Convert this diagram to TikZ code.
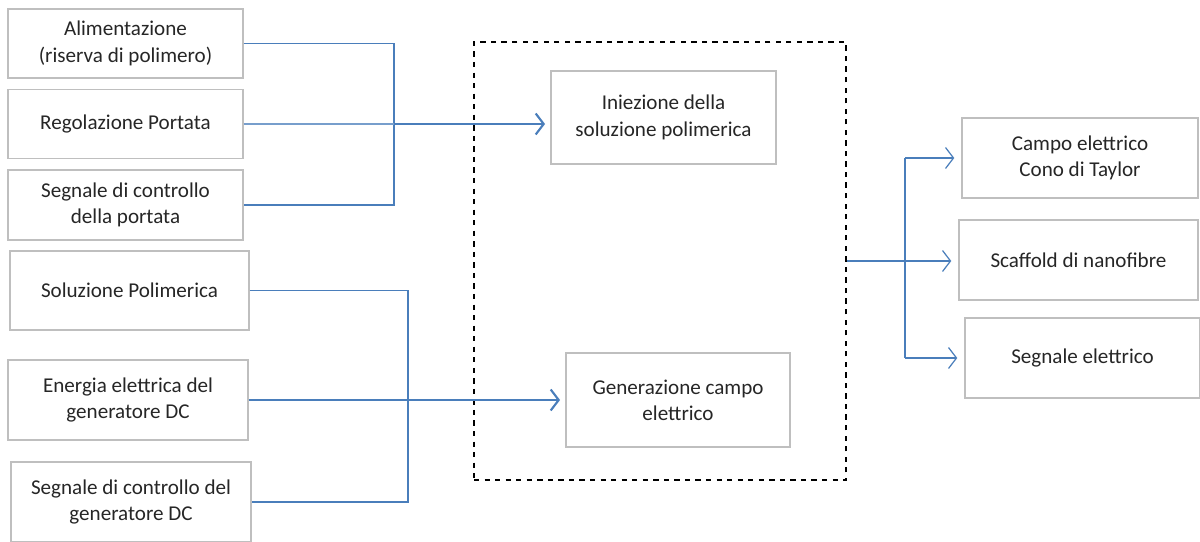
\documentclass[tikz,border=0pt]{standalone}
\usepackage{fontspec}
\setmainfont{Carlito}
\usepackage{tikz}
\usetikzlibrary{arrows.meta, positioning, calc}
\usepackage{xcolor}
\definecolor{linkblue}{RGB}{74, 126, 187}
\definecolor{boxgray}{RGB}{191, 191, 191}
\definecolor{textgray}{RGB}{38, 38, 38}

\begin{document}
\begin{tikzpicture}[
    blk/.style={draw=boxgray, line width=0.8pt, align=center, text=textgray,
      font=\fontsize{12}{15}\selectfont, inner sep=0pt},
    feed/.style={linkblue, line width=0.7pt},
    flow/.style={linkblue, line width=1.2pt, -{Straight Barb[length=1.6mm, width=4.2mm]}},
    outflow/.style={linkblue, line width=0.7pt, -{Straight Barb[length=1.6mm, width=4.2mm]}}
  ]
        \useasboundingbox (0,0) rectangle (24,10.82);
        % input blocks (left)
        \node[blk, minimum width=4.70cm, minimum height=1.38cm] (alim) at (2.51,9.95) {Alimentazione\\(riserva di polimero)};
        \node[blk, minimum width=4.70cm, minimum height=1.38cm] (regol) at (2.51,8.34) {Regolazione Portata};
        \node[blk, minimum width=4.70cm, minimum height=1.40cm] (segport) at (2.51,6.72) {Segnale di controllo\\della portata};
        \node[blk, minimum width=4.78cm, minimum height=1.58cm] (soluz) at (2.59,5.01) {Soluzione Polimerica};
        \node[blk, minimum width=4.80cm, minimum height=1.60cm] (energia) at (2.56,2.82) {Energia elettrica del\\generatore DC};
        \node[blk, minimum width=4.80cm, minimum height=1.60cm] (segdc) at (2.62,0.78) {Segnale di controllo del\\generatore DC};
        % process (dashed frame)
        \node[draw, dashed, line width=0.7pt, minimum width=7.44cm, minimum height=8.76cm] (proc) at (13.2,5.60) {};
        \node[blk, minimum width=4.50cm, minimum height=1.86cm] (iniez) at (13.27,8.47) {Iniezione della\\soluzione polimerica};
        \node[blk, minimum width=4.48cm, minimum height=1.88cm] (gener) at (13.56,2.82) {Generazione campo\\elettrico};
        % output blocks (right)
        \node[blk, minimum width=4.72cm, minimum height=1.60cm] (campo) at (21.6,7.66) {Campo elettrico\\Cono di Taylor};
        \node[blk, minimum width=4.78cm, minimum height=1.60cm] (scaff) at (21.57,5.62) {Scaffold di nanofibre};
        \node[blk, minimum width=4.70cm, minimum height=1.60cm] (segel) at (21.65,3.66) {Segnale elettrico};
        % junctions
        \coordinate (jA) at (7.88,0);
        \coordinate (jB) at (8.16,0);
        \coordinate (jC) at (18.10,0);
        % upper inputs
        \draw[feed] (alim.east) -| (jA |- segport.east) -- (segport.east);
        \draw[feed, linkblue!75, line width=1pt] (regol.east) -- (jA |- regol.east);
        \draw[flow, shorten >=3pt] (jA |- regol.east) -- (regol.east -| iniez.west);
        % lower inputs
        \draw[feed] (soluz.east) -| (jB |- segdc.east) -- (segdc.east);
        \draw[feed] (energia.east) -- (jB |- energia.east);
        \draw[flow, shorten >=3pt] (jB |- energia.east) -- (energia.east -| gener.west);
        % outputs
        \draw[feed] (proc.east) -- (jC |- proc.east);
        \draw[feed] (jC |- campo.west) -- (jC |- segel.west);
        \draw[outflow, shorten >=4pt] (jC |- campo.west) -- (campo.west);
        \draw[outflow, shorten >=4pt] (jC |- proc.east) -- (proc.east -| scaff.west);
        \draw[outflow, shorten >=4pt] (jC |- segel.west) -- (segel.west);
      \end{tikzpicture}
\end{document}
